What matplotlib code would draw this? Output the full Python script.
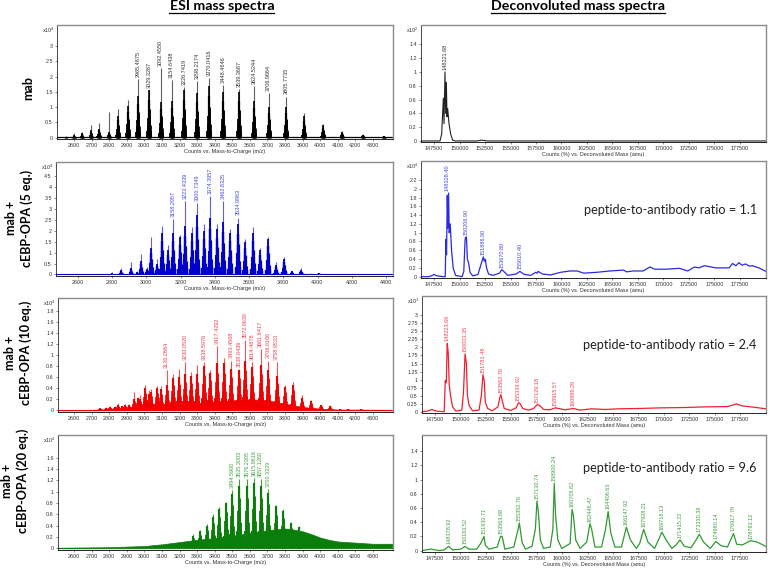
import numpy as np
import matplotlib
matplotlib.use("Agg")
import matplotlib.pyplot as plt
from matplotlib.lines import Line2D

plt.rcParams['font.family'] = ['Liberation Sans', 'DejaVu Sans']
plt.rcParams['mathtext.default'] = 'regular'

W, H = 769, 568

# ESI spectra: peak position, tip height, height of the solid part of the peak
mab_x = [2555, 2600, 2647, 2695, 2744, 2797, 2850, 2909, 2965, 3029, 3092, 3155, 3226,
         3298, 3370, 3448, 3539, 3624, 3707, 3806, 3908, 4014, 4125, 4244, 4362]
mab_tip = [.05, .15, .2, .42, .48, .83, .93, 1.22, 1.92, 1.56, 2.27, 1.89, 1.66,
           1.87, 1.95, 1.73, 1.58, 1.7, 1.45, 1.35, .8, .46, .23, .12, .07]
mab_body = [.03, .08, .15, .25, .3, .2, .72, 1.05, 1.38, 1.55, 1.18, 1.2, 1.55,
            1.45, 1.7, 1.5, 1.5, 1.2, 1.0, 1.0, .7, .42, .18, .1, .06]
mab_text = ['2965.4875', '3029.3287', '3092.4550', '3154.6438', '3226.7419', '3298.2174',
            '3370.0416', '3448.4646', '3539.3687', '3624.5244', '3706.9664', '3805.7735']

blue_x = [2797, 2853, 2908, 2943, 2966, 3004, 3025, 3064, 3091, 3128, 3157, 3196, 3226, 3265,
          3296, 3337, 3374, 3411, 3450, 3491, 3536, 3577, 3621, 3664, 3709, 3756, 3805, 3851,
          3904, 3960, 4010, 4060, 4120, 4230]
blue_tip = [.1, .3, .55, .15, .95, .35, 1.7, .7, 2.2, 1.35, 2.55, 1.8, 3.35, 2.15,
            3.25, 2.3, 3.6, 2.3, 3.35, 2.1, 2.6, 1.6, 2.15, 1.2, 1.7, .55, .8, .18,
            .28, .05, .08, .03, .04, .04]
blue_body = [.05, .2, .3, .1, .6, .25, 1.2, .5, 1.9, 1.1, 1.9, 1.7, 2.2, 1.9,
             2.7, 2.0, 2.6, 2.1, 2.4, 1.9, 2.3, 1.5, 1.9, 1.1, 1.6, .45, .7, .14,
             .22, .04, .06, .02, .03, .03]
blue_text = ['3158.2957', '3223.4339', '3300.7349', '3374.3957', '3462.8325', '3534.9963']
blue_label_x = [3157, 3226, 3296, 3374, 3450, 3536]

red_x = [2748, 2782, 2805, 2833, 2852, 2871, 2890, 2914, 2943, 2966, 2975, 3003, 3026, 3037, 3070,
         3094, 3126, 3164, 3197, 3231, 3265, 3299, 3339, 3373, 3414, 3454, 3492, 3538, 3575, 3615,
         3661, 3706, 3752, 3801, 3846, 3897, 3950, 4007, 4055, 4110, 4160, 4230]
red_tip = [.05, .06, .08, .08, .14, .08, .12, .12, .34, .25, .28, .45, .36, .39, .44,
           .44, .73, .66, .74, .87, .7, .82, .88, .73, 1.17, .95, .9, .75, 1.27, .88,
           1.1, .9, .87, .46, .52, .27, .19, .1, .09, .03, .03, .02]
red_body = [.04, .05, .06, .06, .1, .07, .1, .1, .2, .22, .2, .4, .3, .33, .4,
            .38, .45, .58, .6, .65, .62, .65, .8, .68, .85, .85, .75, .72, .9, .78,
            .82, .72, .62, .42, .45, .22, .16, .09, .07, .02, .02, .02]
red_floor_x = [2509, 2700, 2900, 3000, 3100, 3200, 3300, 3400, 3500, 3600, 3700, 3800, 3900, 4000, 4100, 4414]
red_floor_y = [.005, .01, .03, .06, .09, .11, .13, .16, .18, .2, .18, .12, .06, .03, .015, .01]
red_text = ['3126.2884', '3230.0520', '3338.5976', '3417.4292', '3493.4568', '3538.0436',
            '3572.9639', '3614.4878', '3661.6417', '3706.9166', '3758.9533']
red_label_x = [3126, 3231, 3339, 3414, 3492, 3538, 3575, 3615, 3661, 3706, 3752]

green_x = [3278, 3316, 3354, 3388, 3426, 3464, 3500, 3537, 3583, 3623, 3661, 3704, 3748, 3791, 3833, 3878]
green_tip = [.25, .32, .43, .6, .73, .82, 1.03, 1.22, 1.22, 1.24, 1.22, 1.04, .77, .7, .47, .4]
green_body = [.22, .3, .4, .55, .7, .8, .95, 1.1, 1.1, 1.15, 1.1, .98, .74, .66, .44, .37]
green_floor_x = [2509, 2800, 3000, 3100, 3200, 3300, 3400, 3500, 3600, 3700, 3800, 3850, 3900, 3950, 4000, 4050, 4100, 4200, 4300, 4414]
green_floor_y = [.01, .02, .04, .07, .11, .15, .18, .22, .27, .32, .35, .33, .3, .25, .19, .15, .12, .1, .08, .08]
green_text = ['3494.5900', '3535.3003', '3576.2305', '3615.9616', '3657.1260', '3700.3329']
green_label_x = [3500, 3537, 3583, 3623, 3661, 3704]

# deconvoluted spectra, traced outlines
dec1_x = [146225, 148089, 148252, 148416, 148481, 148579, 148645, 148710, 148775, 148841, 148971, 149135, 149331, 149600,
          151700, 152176, 152700, 180050]
dec1_y = [0, 0, .1, .62, .25, 1.0, .4, .85, .35, .47, .25, .1, .01, 0, 0, .012, 0, 0]

dec2_x = [146200, 146950, 147270, 147500, 147760, 148400, 148600, 148670, 148730, 148800, 148860, 148930, 148990, 149090,
          149220, 149380, 149610, 150250, 150420, 150550, 150610, 150680, 150770, 150900, 151030, 151290, 151810, 152070,
          152330, 152430, 152530, 152650, 152850, 153270, 153920, 154140, 154340, 154730, 155540, 155920, 156350, 156990,
          157480, 157600, 157710, 158130, 158940, 159910, 160880, 161530, 162180, 163470, 164770, 166060, 166400, 167040,
          168010, 168660, 169140, 170280, 171570, 172380, 173030, 173500, 174000, 175130, 176430, 176760, 177100, 177400,
          177700, 178050, 178400, 178700, 179350, 180050]
dec2_y = [0, 0, .02, .05, .02, 0, 0, .85, .5, 1.85, 1.1, 1.9, 1.0, 1.2,
          .6, .2, .03, 0, .12, .85, .9, .9, .4, .3, .1, .02, .05, .25,
          .45, .35, .4, .2, .06, .03, .08, .16, .12, .03, .06, .12, .05, .03,
          .1, .08, .12, .06, .04, .1, .13, .13, .08, .1, .13, .15, .11, .13,
          .13, .22, .17, .17, .19, .13, .22, .2, .25, .2, .2, .3, .25, .32,
          .26, .29, .24, .25, .2, .12]

dec3_x = [146220, 146780, 147200, 147600, 148410, 148510, 148610, 148705, 148800, 148900, 149030, 149230, 149550, 150140,
          150300, 150460, 150590, 150690, 150850, 151180, 151830, 152060, 152220, 152350, 152450, 152680, 153130, 153690,
          153880, 153980, 154110, 154310, 154930, 155480, 155710, 155870, 156130, 156720, 157200, 157530, 157760, 158180,
          158830, 159320, 159650, 160300, 161110, 161770, 162910, 164210, 165510, 167470, 169750, 172020, 173980, 176260,
          177140, 177720, 178860, 180020]
dec3_y = [0, .02, .07, .02, 0, .97, .9, 2.12, 1.85, .85, .5, .15, .02, .05,
          .58, 1.8, 1.5, .5, .2, .03, .05, .5, 1.15, .95, .3, .1, .03, .15,
          .45, .53, .35, .1, .04, .12, .28, .25, .1, .05, .1, .22, .2, .07,
          .06, .12, .1, .06, .1, .05, .09, .07, .09, .1, .12, .13, .15, .16,
          .24, .18, .14, .09]

dec4_x = [146220, 147110, 147920, 148410, 148840, 149230, 150040, 150460, 150850, 151600, 151990, 152320, 152450, 152810,
          153620, 153950, 154110, 154370, 155250, 155640, 155800, 156060, 156390, 157040, 157370, 157530, 157660, 157860,
          158180, 158830, 159090, 159230, 159360, 159580, 159970, 160790, 160980, 161110, 161340, 161770, 162420, 162740,
          162910, 163230, 163880, 164270, 164530, 164790, 165190, 165840, 166320, 166720, 167300, 167630, 168020, 168440,
          169090, 169480, 169810, 170230, 170790, 171210, 171600, 172020, 172680, 173170, 173490, 173910, 174570, 175120,
          175610, 176260, 176850, 177170, 177720, 178540, 179190, 180020]
dec4_y = [0, .02, 0, .01, .06, .01, .02, .06, .02, .02, .1, .2, .08, .02,
          .05, .2, .2, .02, .05, .28, .39, .12, .02, .06, .3, .7, .55, .15,
          .03, .05, .3, .95, .5, .15, .03, .1, .58, .5, .15, .03, .12, .38,
          .3, .05, .05, .3, .55, .25, .05, .05, .33, .15, .03, .1, .3, .12,
          .03, .15, .26, .15, .03, .08, .15, .06, .04, .15, .23, .12, .03, .13,
          .07, .05, .24, .09, .08, .14, .12, .06]

dec2_text = ['148328.40', '150206.90', '151886.90', '153670.80', '155610.40']
dec2_label_x = [148800, 150610, 152330, 154140, 155920]
dec2_label_y = [1.9, .9, .45, .16, .12]
dec3_text = ['148223.69', '150003.35', '151781.48', '153562.79', '155339.92', '157129.18', '158915.57', '160889.29']
dec3_label_x = [148705, 150460, 152220, 153980, 155710, 157530, 159320, 161110]
dec3_label_y = [2.12, 1.8, 1.15, .53, .28, .22, .12, .1]
dec4_text = ['148378.92', '150163.52', '151930.71', '153563.88', '155352.76', '157130.74', '158900.24', '160706.82',
             '162446.47', '164406.63', '166147.92', '167928.21', '169718.13', '171415.22', '173330.39', '174980.14',
             '176917.76', '178763.12']
dec4_label_x = [148840, 150460, 152320, 154050, 155800, 157530, 159230, 160980, 162740, 164530, 166320, 168020,
                169810, 171600, 173490, 175120, 176850, 178540]
dec4_label_y = [.06, .06, .2, .2, .39, .7, .95, .58, .38, .55, .33, .3, .26, .15, .23, .13, .24, .14]

mz_ticks_100 = np.arange(2600, 4301, 100)
mz_ticks_200 = np.arange(2600, 4401, 200)
amu_ticks = np.arange(147500, 177501, 2500)

fig = plt.figure(figsize=(W / 100, H / 100), dpi=100)


def make_axes(left, top, right, bottom, xlim, y_top, y_bottom, xticks, yticks, xlabel, exponent=None):
    ax = fig.add_axes([left / W, 1 - bottom / H, (right - left) / W, (bottom - top) / H])
    ax.set_xlim(xlim)
    ax.set_ylim(y_bottom, y_top)
    ax.set_xticks(xticks)
    ax.set_yticks(yticks)
    ax.set_yticklabels(['%g' % t for t in yticks])
    ax.tick_params(labelsize=3.9, length=1.5, width=.4, pad=1.5, colors='#333333')
    ax.set_xlabel(xlabel, fontsize=4, labelpad=.8, color='#333333')
    ax.spines['top'].set_color('#8c8c8c')
    ax.spines['right'].set_color('#8c8c8c')
    ax.spines['top'].set_linewidth(1.0)
    ax.spines['right'].set_linewidth(1.0)
    ax.spines['left'].set_linewidth(.5)
    ax.spines['bottom'].set_linewidth(.6)
    if exponent is not None:
        ax.text(-.006, .955, 'x10$^{%s}$' % exponent, transform=ax.transAxes, ha='right', va='center',
                fontsize=3.9, color='#333333')
    return ax


def draw_peaks(ax, x, tip, body, dark, light, fat=1.0):
    body = np.array(body)
    ax.vlines(x, 0, tip, color=light, lw=.8)
    # stacked strokes so a peak tapers from a wide foot to a thin top
    for frac, lw in [(1, 1.2), (.8, 1.6), (.6, 2.1), (.42, 2.7), (.27, 3.4), (.14, 4.2)]:
        ax.vlines(x, 0, body * frac, color=dark, lw=lw * fat)


def draw_labels(ax, xs, ys, texts, color):
    for x, y, s in zip(xs, ys, texts):
        ax.annotate(s, (x, y), xytext=(0, 1.5), textcoords='offset points', rotation=90,
                    ha='center', va='bottom', fontsize=4, color=color)


mz_label = 'Counts vs. Mass-to-Charge (m/z)'
amu_label = 'Counts (%) vs. Deconvoluted Mass (amu)'

# row 1
ax = make_axes(57, 25, 393, 139, (2503, 4414), 3.69, -.04, mz_ticks_100, [0, .5, 1, 1.5, 2, 2.5, 3], mz_label, '4')
ax.plot([2503, 4414], [.01, .01], color='black', lw=.9)
draw_peaks(ax, mab_x, mab_tip, mab_body, 'black', '#606060')
draw_labels(ax, mab_x[8:20], mab_tip[8:20], mab_text, '#333333')

ax = make_axes(421, 25, 766, 142, (146225, 180050), 1.68, -.015, amu_ticks, [0, .2, .4, .6, .8, 1, 1.2, 1.4], amu_label, '2')
ax.plot(dec1_x, dec1_y, color='#222222', lw=.8)
draw_labels(ax, [148579], [1.0], ['148221.68'], '#333333')

# row 2
ax = make_axes(56, 162, 393, 276, (2471, 4441), 5.14, -.07, mz_ticks_200, [0, .5, 1, 1.5, 2, 2.5, 3, 3.5, 4, 4.5], mz_label, '4')
ax.plot([2471, 4441], [.015, .015], color='#0000c8', lw=.8)
draw_peaks(ax, blue_x, blue_tip, blue_body, '#0000c8', '#6060e0', fat=1.1)
draw_labels(ax, blue_label_x, [2.55, 3.35, 3.25, 3.6, 3.35, 2.6], blue_text, '#4646dc')

ax = make_axes(421, 161, 766, 278, (146225, 180050), 2.63, -.03, amu_ticks,
               [0, .2, .4, .6, .8, 1, 1.2, 1.4, 1.6, 1.8, 2, 2.2], amu_label, '4')
ax.plot(dec2_x, dec2_y, color='#2a2ae0', lw=.9)
draw_labels(ax, dec2_label_x, dec2_label_y, dec2_text, '#4646dc')

# row 3
ax = make_axes(58, 298, 393, 412, (2509, 4414), 2.03, -.03, mz_ticks_100, [0, .2, .4, .6, .8, 1, 1.2, 1.4, 1.6, 1.8], mz_label, '4')
ax.fill_between(red_floor_x, 0, red_floor_y, color='#f00000', lw=.5)
draw_peaks(ax, red_x, red_tip, red_body, '#f00000', '#ff5050', fat=1.25)
draw_labels(ax, red_label_x, [.73, .87, .88, 1.17, .9, .75, 1.27, .88, 1.1, .9, .87], red_text, '#f04050')

ax = make_axes(422, 296, 766, 413, (146225, 180050), 3.6, -.04, amu_ticks,
               [0, .25, .5, .75, 1, 1.25, 1.5, 1.75, 2, 2.25, 2.5, 2.75, 3], amu_label, '1')
ax.plot(dec3_x, dec3_y, color='#f02030', lw=.9)
draw_labels(ax, dec3_label_x, dec3_label_y, dec3_text, '#f04050')

# row 4
ax = make_axes(58, 435, 393, 550, (2509, 4414), 2.0, -.03, mz_ticks_100, [0, .2, .4, .6, .8, 1, 1.2, 1.4, 1.6], mz_label, '4')
ax.fill_between(green_floor_x, 0, green_floor_y, color='#0a7d0a', lw=.5)
draw_peaks(ax, green_x, green_tip, green_body, '#0a7d0a', '#3f9f3f', fat=1.3)
draw_labels(ax, green_label_x, green_tip[6:12], green_text, '#3fa03f')

ax = make_axes(422, 435, 766, 552, (146225, 180050), 1.63, -.02, amu_ticks, [0, .2, .4, .6, .8, 1, 1.2, 1.4], amu_label)
ax.plot(dec4_x, dec4_y, color='#2f9a2f', lw=.9)
draw_labels(ax, dec4_label_x, dec4_label_y, dec4_text, '#3fa03f')


def px_text(x, y, s, **kw):
    fig.text(x / W, 1 - y / H, s, family=['Lato', 'DejaVu Sans'], **kw)


# headers, underlined by hand
px_text(222, 6.5, 'ESI mass spectra', ha='center', va='center', fontsize=10.2, fontweight='bold')
px_text(578, 6.5, 'Deconvoluted mass spectra', ha='center', va='center', fontsize=10.2, fontweight='bold')
fig.add_artist(Line2D([169 / W, 274 / W], [1 - 13 / H, 1 - 13 / H], color='black', lw=.9))
fig.add_artist(Line2D([491 / W, 665 / W], [1 - 13 / H, 1 - 13 / H], color='black', lw=.9))

# row names
row_style = dict(rotation=90, ha='center', va='center', fontsize=9, fontweight='bold', linespacing=1.3)
px_text(28, 88, 'mab', **row_style)
px_text(19, 218, 'mab +\ncEBP-OPA (5 eq.)', **row_style)
px_text(18, 353, 'mab +\ncEBP-OPA (10 eq.)', **row_style)
px_text(15, 481, 'mab +\ncEBP-OPA (20 eq.)', **row_style)

# ratios
ratio_style = dict(ha='left', va='center', fontsize=9.2, color='#222222')
px_text(584, 210, 'peptide-to-antibody ratio = 1.1', **ratio_style)
px_text(583, 345, 'peptide-to-antibody ratio = 2.4', **ratio_style)
px_text(583, 468, 'peptide-to-antibody ratio = 9.6', **ratio_style)

plt.savefig('out.png', dpi=100)
